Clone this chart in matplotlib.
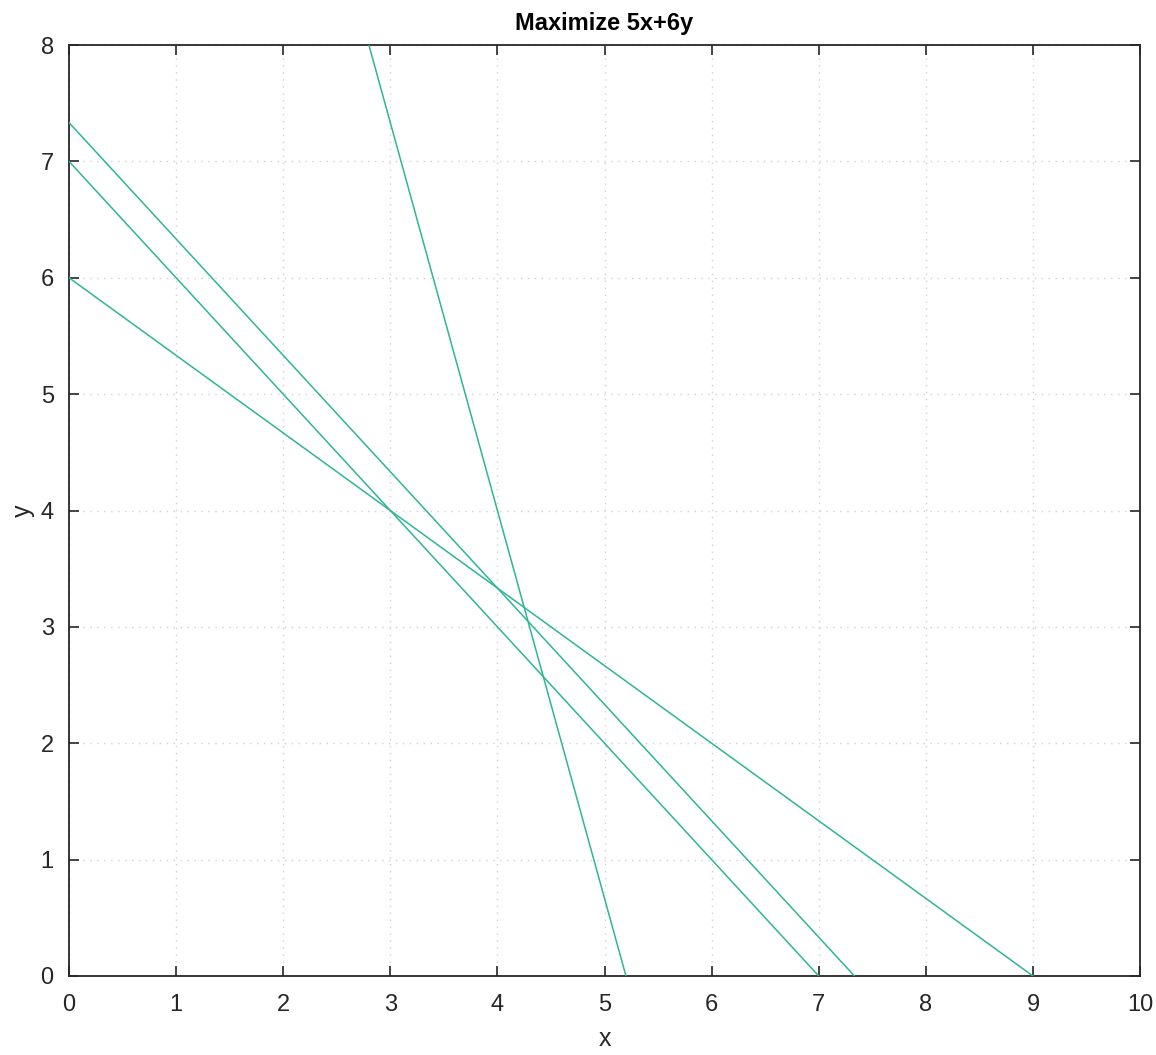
import numpy as np
import matplotlib.pyplot as plt

plt.rcParams['font.family'] = ['Liberation Sans', 'DejaVu Sans']

# constraints a*x + b*y = c
a = [2, 1, 3, 10]
b = [3, 1, 3, 3]
c = [18, 7, 22, 52]

fig = plt.figure(figsize=(11.56, 10.55), dpi=100)
ax = fig.add_axes([0.0597, 0.0749, 0.9265, 0.8824])

x = np.linspace(0, 10, 201)
for ai, bi, ci in zip(a, b, c):
    y = (ci - ai * x) / bi
    ax.plot(x, y, color='#2fb595', lw=1.1, zorder=3)

ax.set_xlim(0, 10)
ax.set_ylim(0, 8)
ax.set_xticks(range(0, 11))
ax.set_yticks(range(0, 9))
ax.grid(True, linestyle=(0, (1, 4)), color='#d0d0d0', lw=1)
ax.tick_params(direction='in', top=True, right=True, length=7, width=1.2,
               labelsize=17, colors='#262626')
ax.tick_params(axis='x', pad=13)
ax.tick_params(axis='y', pad=11)
for s in ax.spines.values():
    s.set_linewidth(1.3)
    s.set_color('#262626')

ax.set_xlabel('x', fontsize=18, color='#262626', labelpad=8)
ax.set_ylabel('y', fontsize=18, color='#262626', labelpad=4)
ax.set_title('Maximize 5x+6y', fontsize=17, fontweight='bold', pad=11)

fig.savefig('out.png', dpi=100)
